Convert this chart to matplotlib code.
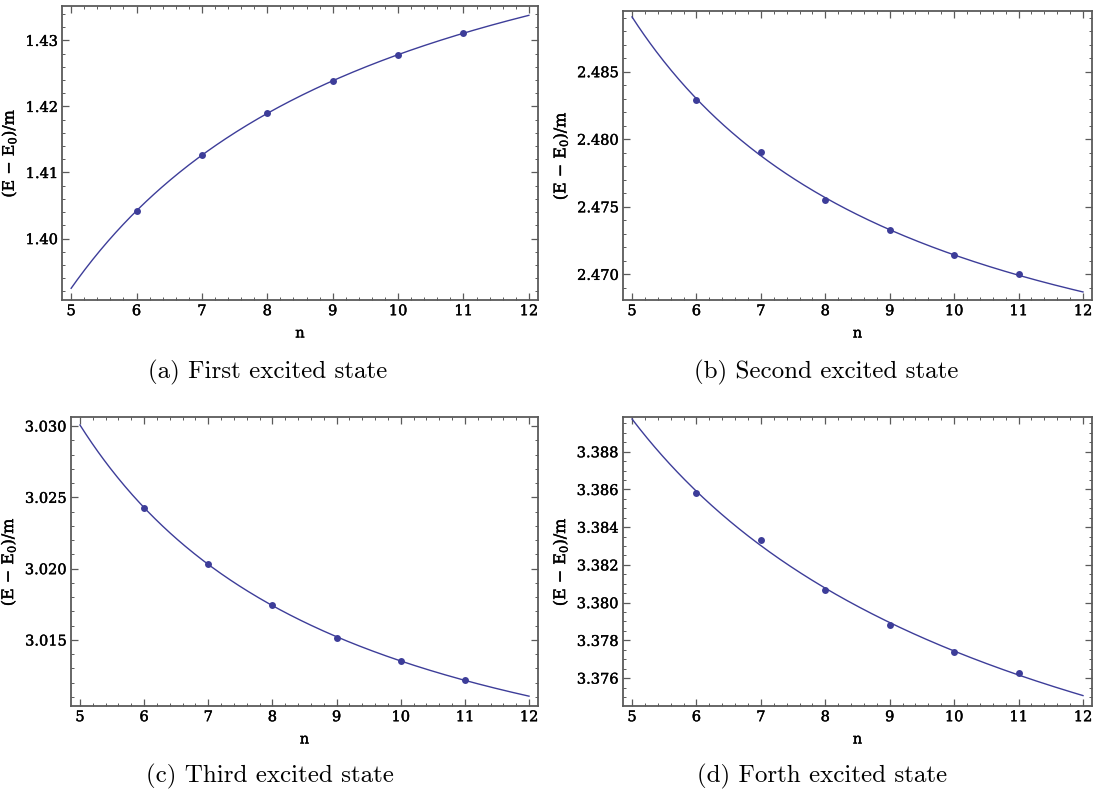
import numpy as np
import matplotlib
matplotlib.use("Agg")
import matplotlib.pyplot as plt
import matplotlib.patheffects as pe
from matplotlib.ticker import MultipleLocator, FormatStrFormatter

plt.rcParams["font.family"] = ["DejaVu Serif"]
plt.rcParams["mathtext.default"] = "regular"

# Lattice sizes and energy gaps for the four lowest excitations
n_values = [6, 7, 8, 9, 10, 11]
gap_first = [1.40421, 1.41261, 1.41895, 1.42391, 1.42779, 1.43110]
gap_second = [2.48291, 2.47904, 2.47549, 2.47327, 2.47141, 2.47000]
gap_third = [3.02425, 3.02035, 3.01743, 3.01514, 3.01353, 3.01220]
gap_fourth = [3.38579, 3.38331, 3.38067, 3.37881, 3.37738, 3.37627]

captions = ["(a) First excited state", "(b) Second excited state",
            "(c) Third excited state", "(d) Forth excited state"]

fit_range = (5, 12)
y_limits = [(1.3907, 1.4352), (2.4681, 2.48949), (3.01037, 3.03063), (3.37452, 3.38984)]
y_major = [0.01, 0.005, 0.005, 0.002]
y_minor = [0.002, 0.001, 0.001, 0.0005]
y_fmt = ["%.2f", "%.3f", "%.3f", "%.3f"]

W, H = 1094, 798
# frame boxes in pixels: left, top, right, bottom
boxes = [(62, 6, 538, 300), (623, 11, 1092, 300),
         (71, 417, 538, 706), (623, 417, 1092, 706)]
caption_pos = [(268, 372), (826, 372), (270, 776), (822, 776)]

COLOR = "#3d3d99"
FRAME = "#5a5a5a"
THICK = [pe.withStroke(linewidth=0.3, foreground="black")]


def power_fit(x, y):
    """Least-squares fit of y = a + b*x**(-p)."""
    x = np.asarray(x, float)
    y = np.asarray(y, float)
    best = None
    for p in np.linspace(0.1, 6.0, 3000):
        A = np.column_stack([np.ones_like(x), x ** (-p)])
        coef, *_ = np.linalg.lstsq(A, y, rcond=None)
        r = np.sum((A @ coef - y) ** 2)
        if best is None or r < best[0]:
            best = (r, coef[0], coef[1], p)
    _, a, b, p = best
    return lambda t: a + b * t ** (-p)


fig = plt.figure(figsize=(W / 100, H / 100), dpi=100)

series = [gap_first, gap_second, gap_third, gap_fourth]
for i, gaps in enumerate(series):
    l, t, r, b = boxes[i]
    ax = fig.add_axes([l / W, 1 - b / H, (r - l) / W, (b - t) / H])
    f = power_fit(n_values, gaps)
    xs = np.linspace(fit_range[0], fit_range[1], 300)
    ax.plot(xs, f(xs), color=COLOR, lw=1.0, zorder=2)
    ax.plot(n_values, gaps, "o", color=COLOR, ms=5, mec="none", zorder=3)

    ax.set_xlim(4.86, 12.14)
    ax.set_ylim(*y_limits[i])
    ax.xaxis.set_major_locator(MultipleLocator(1))
    ax.xaxis.set_minor_locator(MultipleLocator(0.2))
    ax.yaxis.set_major_locator(MultipleLocator(y_major[i]))
    ax.yaxis.set_minor_locator(MultipleLocator(y_minor[i]))
    ax.yaxis.set_major_formatter(FormatStrFormatter(y_fmt[i]))
    ax.tick_params(which="both", direction="in", top=True, right=True,
                   color=FRAME, labelsize=10.5, pad=3)
    ax.tick_params(which="major", length=5, width=0.9)
    ax.tick_params(which="minor", length=2.5, width=0.7)
    for s in ax.spines.values():
        s.set_color(FRAME)
        s.set_linewidth(1.3)
    for lab in ax.get_xticklabels() + ax.get_yticklabels():
        lab.set_path_effects(THICK)

    xl = ax.set_xlabel("n", fontsize=10.5, labelpad=6)
    yl = ax.set_ylabel("(E $-$ E$_0$)/m", fontsize=11.5, labelpad=5)
    xl.set_path_effects(THICK)
    yl.set_path_effects(THICK)

    cx, cy = caption_pos[i]
    fig.text(cx / W, 1 - cy / H, captions[i], family="cmr10", fontsize=18,
             ha="center", va="center")

fig.savefig("out.png", dpi=100)
